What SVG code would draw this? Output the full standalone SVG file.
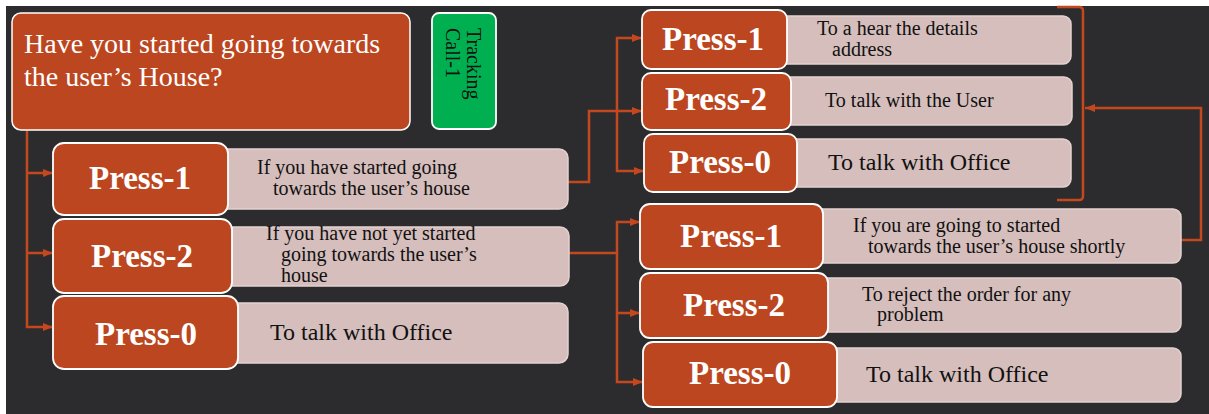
<svg xmlns="http://www.w3.org/2000/svg" width="1209" height="414" viewBox="0 0 1209 414">
<style>
.bg{fill:#2c2c2e}
.q{fill:#BC4620;stroke:#ffffff;stroke-width:1.5}
.p{fill:#BC4620;stroke:#ffffff;stroke-width:1.8}
.l{fill:#D5BEBC;stroke:#E4D2D0;stroke-width:1.5}
.g{fill:#00B050;stroke:#ffffff;stroke-width:1.8}
.pt{font-family:"Liberation Serif","Times New Roman",serif;font-weight:bold;font-size:33px;fill:#ffffff;text-anchor:middle}
.qt{font-family:"Liberation Serif","Times New Roman",serif;font-size:28px;fill:#ffffff}
.t20{font-family:"Liberation Serif","Times New Roman",serif;font-size:20px;fill:#111111}
.t24{font-family:"Liberation Serif","Times New Roman",serif;font-size:24px;fill:#111111}
.c{fill:none;stroke:#C4471E;stroke-width:2.5}
</style>
<defs>
<marker id="ah" viewBox="0 0 10 8" refX="10" refY="4" markerWidth="10" markerHeight="8" markerUnits="userSpaceOnUse" orient="auto" preserveAspectRatio="none">
<path d="M0,0 L10,4 L0,8 z" fill="#C4471E"/>
</marker>
</defs>
<rect x="0" y="0" width="1209" height="414" fill="#ffffff"/>
<rect class="bg" x="6" y="6" width="1203" height="408"/>

<g id="connectors">
<path class="c" d="M27,128 V327 H53" marker-end="url(#ah)"/>
<path class="c" d="M27,173 H53" marker-end="url(#ah)"/>
<path class="c" d="M27,253 H53" marker-end="url(#ah)"/>
<path class="c" d="M568,182 H589 V111 H642" marker-end="url(#ah)"/>
<path class="c" d="M617,110 V38 H642" marker-end="url(#ah)"/>
<path class="c" d="M617,110 V171 H644" marker-end="url(#ah)"/>
<path class="c" d="M569,253 H617 V222 H640" marker-end="url(#ah)"/>
<path class="c" d="M617,253 V382 H643" marker-end="url(#ah)"/>
<path class="c" d="M617,313 H640" marker-end="url(#ah)"/>
<path class="c" d="M1057,7 H1079 Q1083,7 1083,11 V196 Q1083,200 1079,200 H1057"/>
<path class="c" d="M1181,240 H1201 V108 H1085" marker-end="url(#ah)"/>
</g>

<g id="question">
<rect class="q" x="12" y="13" width="398" height="117" rx="9"/>
<text class="qt" x="24" y="53">Have you started going towards</text>
<text class="qt" x="24" y="86">the user’s House?</text>
</g>

<g id="tracking">
<rect class="g" x="432" y="13" width="64" height="116" rx="7"/>
<text class="t20" transform="translate(467,28) rotate(90)">Tracking</text>
<text class="t20" transform="translate(446,28) rotate(90)">Call-1</text>
</g>

<g id="l-press1">
<rect class="l" x="200" y="149" width="368" height="60" rx="9"/>
<rect class="p" x="53" y="143" width="175" height="72" rx="11"/>
<text class="pt" x="140" y="189">Press-1</text>
<text class="t20" x="257" y="174">If you have started going</text>
<text class="t20" x="273" y="195">towards the user’s house</text>
</g>

<g id="l-press2">
<rect class="l" x="200" y="227" width="369" height="59" rx="9"/>
<rect class="p" x="53" y="219" width="179" height="74" rx="11"/>
<text class="pt" x="142" y="267">Press-2</text>
<text class="t20" x="266" y="240">If you have not yet started</text>
<text class="t20" x="281" y="261">going towards the user’s</text>
<text class="t20" x="281" y="282">house</text>
</g>

<g id="l-press0">
<rect class="l" x="200" y="303" width="368" height="60" rx="9"/>
<rect class="p" x="53" y="296" width="185" height="73" rx="11"/>
<text class="pt" x="146" y="345">Press-0</text>
<text class="t24" x="270" y="340">To talk with Office</text>
</g>

<g id="rt-press1">
<rect class="l" x="760" y="16" width="311" height="48" rx="8"/>
<rect class="p" x="642" y="10" width="145" height="59" rx="9"/>
<text class="pt" x="713" y="50">Press-1</text>
<text class="t20" x="817" y="35">To a hear the details</text>
<text class="t20" x="832" y="56">address</text>
</g>

<g id="rt-press2">
<rect class="l" x="760" y="77" width="312" height="48" rx="8"/>
<rect class="p" x="642" y="73" width="149" height="57" rx="9"/>
<text class="pt" x="716" y="110">Press-2</text>
<text class="t20" x="825" y="107">To talk with the User</text>
</g>

<g id="rt-press0">
<rect class="l" x="760" y="139" width="311" height="48" rx="8"/>
<rect class="p" x="644" y="134" width="153" height="58" rx="9"/>
<text class="pt" x="720" y="173">Press-0</text>
<text class="t24" x="828" y="170">To talk with Office</text>
</g>

<g id="rb-press1">
<rect class="l" x="800" y="209" width="381" height="54" rx="8"/>
<rect class="p" x="640" y="204" width="183" height="65" rx="10"/>
<text class="pt" x="731" y="247">Press-1</text>
<text class="t20" x="853" y="232">If you are going to started</text>
<text class="t20" x="868" y="253">towards the user’s house shortly</text>
</g>

<g id="rb-press2">
<rect class="l" x="800" y="278" width="381" height="54" rx="8"/>
<rect class="p" x="640" y="273" width="188" height="65" rx="10"/>
<text class="pt" x="734" y="316">Press-2</text>
<text class="t20" x="862" y="301">To reject the order for any</text>
<text class="t20" x="877" y="321">problem</text>
</g>

<g id="rb-press0">
<rect class="l" x="800" y="348" width="381" height="54" rx="8"/>
<rect class="p" x="643" y="342" width="194" height="65" rx="10"/>
<text class="pt" x="740" y="384">Press-0</text>
<text class="t24" x="866" y="382">To talk with Office</text>
</g>
</svg>
